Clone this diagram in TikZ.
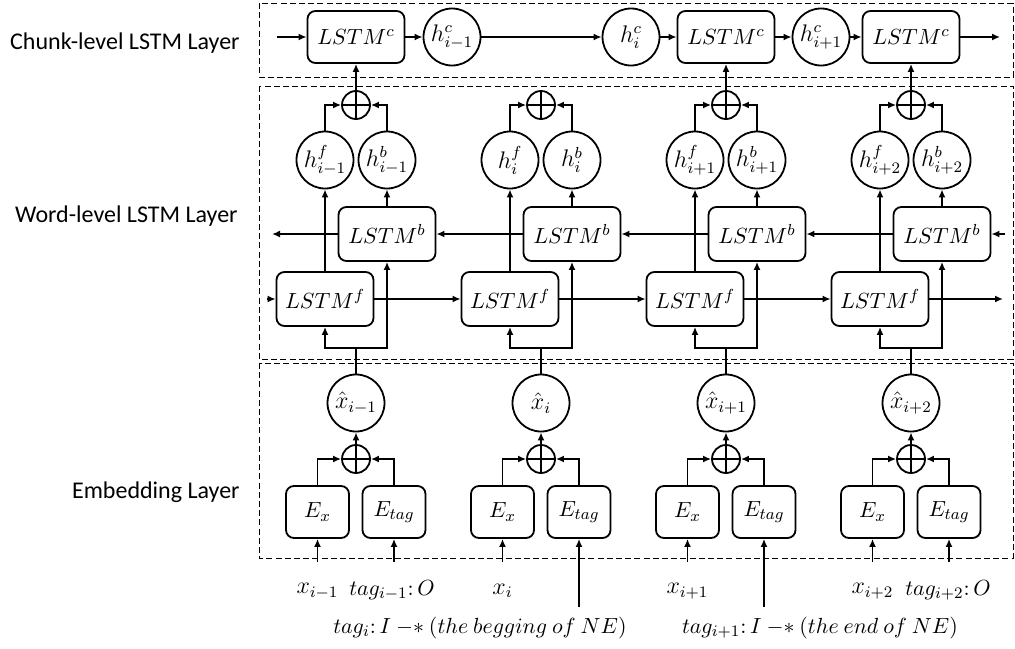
\documentclass[tikz,border=0pt]{standalone}
\usepackage{fontspec}
\setmainfont{Carlito}
\usetikzlibrary{arrows.meta}

\begin{document}
\begin{tikzpicture}[
	x=0.5pt, y=-0.5pt,
	lstm/.style={
		rectangle, rounded corners=4pt, draw, line width=0.9pt,
		minimum width=48.5pt, minimum height=27pt, inner sep=0pt,
		font=\fontsize{11}{13}\selectfont
	},
	emb/.style={lstm, minimum width=31.5pt, minimum height=26pt},
	state/.style={
		circle, draw, line width=0.9pt, minimum size=28.5pt, inner sep=0pt,
		font=\fontsize{12}{14}\selectfont
	},
	plus/.style={
		circle, draw, line width=0.9pt, minimum size=14pt, inner sep=0pt,
		path picture={\draw[line width=0.9pt]
			(path picture bounding box.north) -- (path picture bounding box.south)
			(path picture bounding box.west) -- (path picture bounding box.east);}
	},
	layer/.style={draw, line width=0.5pt, dash pattern=on 3pt off 1.6pt},
	layerlabel/.style={anchor=east, inner sep=0pt, font=\fontsize{12}{14}\selectfont},
	input/.style={font=\fontsize{12}{14}\selectfont, inner sep=1pt},
	taginput/.style={input, font=\fontsize{11}{13}\selectfont},
	arrow/.style={-{Latex[length=4pt,width=3.5pt]}, line width=0.9pt}
	]
	
	\useasboundingbox (0,0) rectangle (1015,648);
	
	% layers
	\draw[layer] (259,3) rectangle (1013,77);
	\draw[layer] (259,86) rectangle (1013,359);
	\draw[layer] (259,363) rectangle (1013,558);
	\node[layerlabel] (lchunk) at (240,43) {Chunk-level LSTM Layer};
	\node[layerlabel] (lword) at (238,216) {Word-level LSTM Layer};
	\node[layerlabel] (lemb) at (240,492) {Embedding Layer};
	
	% chunk level
	\node[lstm, minimum height=26pt] (c1) at (356,37) {$LSTM^c$};
	\node[state] (hc1) at (452,37) {$h^c_{i-1}$};
	\node[state] (hc2) at (631,37) {$h^c_i$};
	\node[lstm, minimum height=26pt] (c2) at (726,37) {$LSTM^c$};
	\node[state] (hc3) at (821,37) {$h^c_{i+1}$};
	\node[lstm, minimum height=26pt] (c3) at (911,37) {$LSTM^c$};
	\coordinate (cin) at (277,37);
	\coordinate (cout) at (1000,37);
	
	\draw[arrow] (cin) -- (c1);
	\draw[arrow] (c1) -- (hc1);
	\draw[arrow] (hc1) -- (hc2);
	\draw[arrow] (hc2) -- (c2);
	\draw[arrow] (c2) -- (hc3);
	\draw[arrow] (hc3) -- (c3);
	\draw[arrow] (c3) -- (cout);
	
	% word level and embedding, one column per word
	\foreach \i/\n/\sub/\ty in {1/0/{i-1}/562, 2/1/{i}/607, 3/2/{i+1}/607, 4/3/{i+2}/562} {
		\pgfmathsetmacro{\cx}{356+185*\n}
		\node[plus] (pw\i) at (\cx,105) {};
		\node[state] (hf\i) at (\cx-31,160) {$h^f_{\sub}$};
		\node[state] (hb\i) at (\cx+31,160) {$h^b_{\sub}$};
		\node[lstm] (lb\i) at (\cx+31,234) {$LSTM^b$};
		\node[lstm] (lf\i) at (\cx-31,299) {$LSTM^f$};
		\coordinate (fk\i) at (\cx,348);
		\node[state] (xh\i) at (\cx,403) {$\hat{x}_{\sub}$};
		\node[plus] (pe\i) at (\cx,459) {};
		\node[emb] (ex\i) at (\cx-38.5,512) {$E_x$};
		\node[emb] (et\i) at (\cx+38,512) {$E_{tag}$};
		\coordinate (xin\i) at (\cx-38.5,562);
		\coordinate (tin\i) at (\cx+38,\ty);
		
		\draw[arrow] (hf\i.north) |- (pw\i.west);
		\draw[arrow] (hb\i.north) |- (pw\i.east);
		\draw[arrow] (lf\i.north) -- (hf\i.south);
		\draw[arrow] (lb\i.north) -- (hb\i.south);
		\draw[line width=0.9pt] (xh\i.north) -- (fk\i);
		\draw[arrow] (fk\i) -| (lf\i.south);
		\draw[arrow] (fk\i) -| (lb\i.south);
		\draw[arrow] (pe\i.north) -- (xh\i.south);
		\draw[arrow] (ex\i.north) |- (pe\i.west);
		\draw[arrow] (et\i.north) |- (pe\i.east);
		\draw[arrow] (xin\i) -- (ex\i.south);
		\draw[arrow] (tin\i) -- (et\i.south);
	}
	
	\foreach \i/\j in {1/2, 2/3, 3/4} {
		\draw[arrow] (lf\i.east) -- (lf\j.west);
		\draw[arrow] (lb\j.west) -- (lb\i.east);
	}
	\coordinate (fin) at (267,299);
	\coordinate (fout) at (1003,299);
	\coordinate (bin) at (1005,234);
	\coordinate (bout) at (272,234);
	\draw[arrow] (fin) -- (lf1.west);
	\draw[arrow] (lf4.east) -- (fout);
	\draw[arrow] (bin) -- (lb4.east);
	\draw[arrow] (lb1.west) -- (bout);
	
	\draw[arrow] (pw1.north) -- (c1.south);
	\draw[arrow] (pw3.north) -- (c2.south);
	\draw[arrow] (pw4.north) -- (c3.south);
	
	% inputs
	\node[input] (x1) at (317.5,591) {$x_{i-1}$};
	\node[taginput] (tag1) at (392,590) {$tag_{i-1}\colon O$};
	\node[input] (x2) at (502.5,591) {$x_i$};
	\node[taginput] (tag2) at (480,628) {$tag_i\colon I\ {-}{*}\ (the\ begging\ of\ NE)$};
	\node[input] (x3) at (687.5,591) {$x_{i+1}$};
	\node[taginput] (tag3) at (820,628) {$tag_{i+1}\colon I\ {-}{*}\ (the\ end\ of\ NE)$};
	\node[input] (x4) at (872.5,591) {$x_{i+2}$};
	\node[taginput] (tag4) at (948,590) {$tag_{i+2}\colon O$};
	
\end{tikzpicture}
\end{document}
